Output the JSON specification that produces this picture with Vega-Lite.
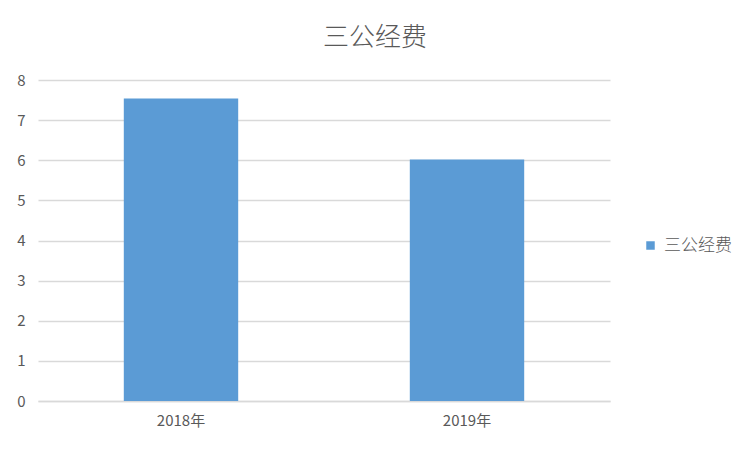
{
  "$schema": "https://vega.github.io/schema/vega-lite/v6.json",
  "autosize": "none",
  "width": 572,
  "height": 321,
  "padding": {"left": 38, "top": 80, "right": 142, "bottom": 51},
  "background": "white",
  "title": {
    "text": "三公经费",
    "anchor": "middle",
    "frame": "group",
    "dx": 51,
    "fontSize": 26,
    "fontWeight": 300,
    "color": "#595959",
    "font": "Noto Sans CJK SC",
    "offset": 22
  },
  "data": {
    "values": [
      {"year": "2018年", "series": "三公经费", "value": 7.54},
      {"year": "2019年", "series": "三公经费", "value": 6.02}
    ]
  },
  "mark": {"type": "bar", "color": "#5B9BD5"},
  "encoding": {
    "x": {
      "field": "year",
      "type": "nominal",
      "scale": {"paddingInner": 0.6, "paddingOuter": 0.3},
      "axis": {
        "title": null,
        "labelAngle": 0,
        "ticks": false,
        "domain": true,
        "domainColor": "#D9D9D9",
        "domainWidth": 1.3,
        "labelPadding": 12,
        "labelFontSize": 15,
        "labelColor": "#595959",
        "labelFont": "Noto Sans CJK SC"
      }
    },
    "y": {
      "field": "value",
      "type": "quantitative",
      "scale": {"domain": [0, 8], "nice": false},
      "axis": {
        "title": null,
        "values": [0, 1, 2, 3, 4, 5, 6, 7, 8],
        "domain": false,
        "ticks": false,
        "gridColor": "#D9D9D9",
        "gridWidth": 1.3,
        "labelPadding": 13,
        "labelFontSize": 15,
        "labelColor": "#595959",
        "labelFont": "Noto Sans CJK SC"
      }
    },
    "fill": {
      "field": "series",
      "type": "nominal",
      "scale": {"range": ["#5B9BD5"]},
      "legend": {
        "title": null,
        "orient": "none",
        "legendX": 604,
        "legendY": 157,
        "padding": 0,
        "symbolType": "square",
        "symbolSize": 72,
        "symbolStrokeWidth": 0,
        "labelFontSize": 17,
        "labelFontWeight": 300,
        "labelColor": "#595959",
        "labelFont": "Noto Sans CJK SC",
        "labelOffset": 5
      }
    }
  },
  "config": {
    "view": {"stroke": null}
  }
}
